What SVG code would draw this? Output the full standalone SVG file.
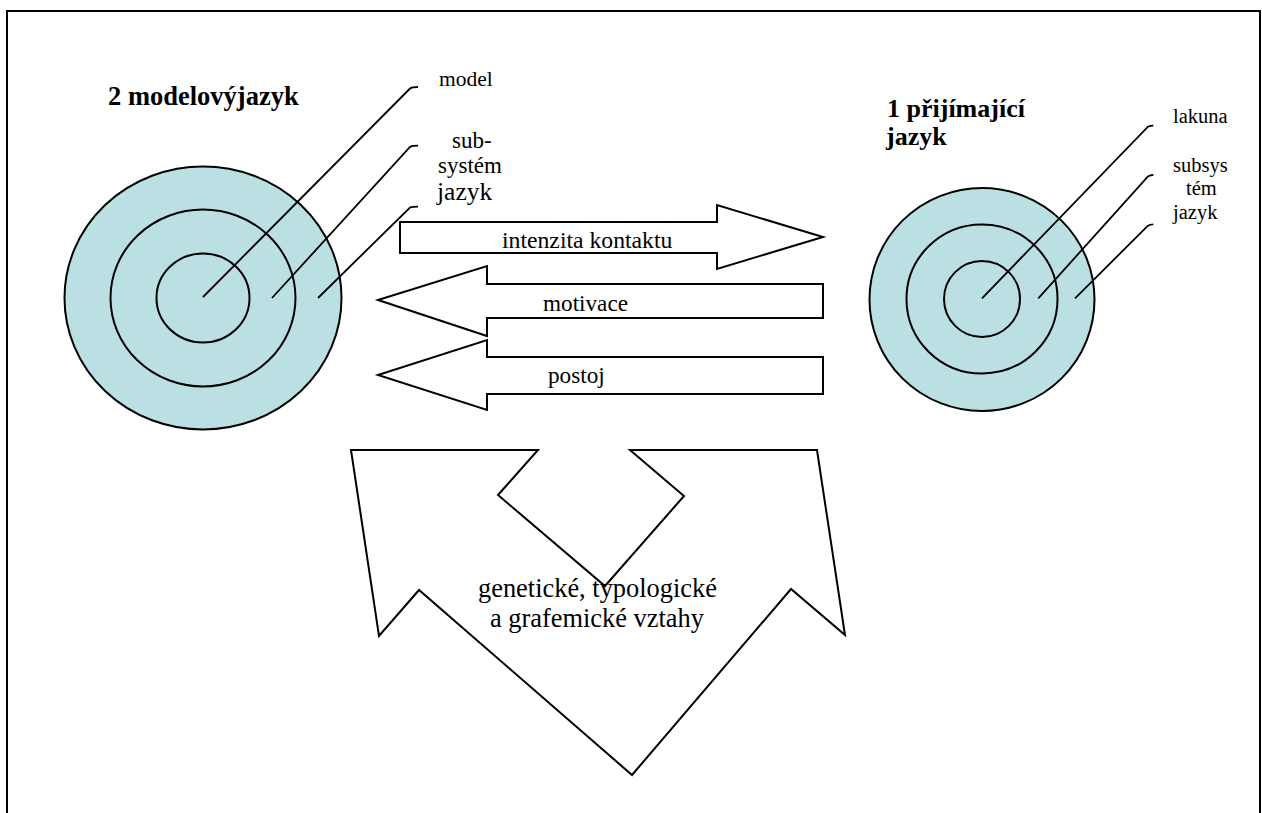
<svg xmlns="http://www.w3.org/2000/svg" width="1262" height="813" viewBox="0 0 1262 813">
<style>
.ring{fill:#BBE0E3;stroke:#000;stroke-width:2}
.inner{fill:none;stroke:#000;stroke-width:2}
.lead{fill:none;stroke:#000;stroke-width:1.8}
.arrow{fill:#fff;stroke:#000;stroke-width:2;stroke-linejoin:miter}
text{font-family:'Liberation Serif','Times New Roman',serif;fill:#000}
.b{font-weight:bold}
</style>
<rect width="1262" height="813" fill="#fff"/>
<path d="M7,813 V11 H1260 V813" fill="none" stroke="#000" stroke-width="2"/>

<g id="model-language">
<ellipse class="ring" cx="203" cy="298" rx="138.5" ry="131.5"/>
<ellipse class="inner" cx="203" cy="298" rx="92.5" ry="88.5"/>
<ellipse class="inner" cx="203" cy="298" rx="46.5" ry="44.5"/>
<text class="b" x="108" y="105" font-size="26.5">2 modelovýjazyk</text>
</g>

<g id="receiving-language">
<ellipse class="ring" cx="982" cy="299.5" rx="112.5" ry="111.5"/>
<ellipse class="inner" cx="982" cy="299" rx="75.5" ry="74.5"/>
<ellipse class="inner" cx="982" cy="299" rx="38" ry="38"/>
<text class="b" x="887" y="117" font-size="26">1 přijímající</text>
<text class="b" x="886" y="145" font-size="26">jazyk</text>
</g>

<g id="connectors">
<path class="lead" d="M203,297 L410,88.5 Q412,87 418,87"/>
<path class="lead" d="M272,298 L410,147 Q412,145.7 418,145.7"/>
<path class="lead" d="M318,298 L410,207.5 Q412,206.7 418,206.7"/>
<path class="lead" d="M982,298.3 L1148,126.7 Q1150,125.7 1153.3,125.7"/>
<path class="lead" d="M1038.3,298.3 L1148,176.5 Q1150,175 1153.3,175"/>
<path class="lead" d="M1075,298.3 L1148,225.7 Q1150,224.3 1153.3,224.3"/>
</g>

<g id="labels-left">
<text x="439" y="86" font-size="21.5">model</text>
<text x="452" y="148" font-size="23">sub-</text>
<text x="438" y="173" font-size="23">systém</text>
<text x="437" y="200" font-size="25.5">jazyk</text>
</g>

<g id="labels-right">
<text x="1173" y="123" font-size="20.5">lakuna</text>
<text x="1173" y="172" font-size="20.5">subsys</text>
<text x="1186" y="195" font-size="20.5">tém</text>
<text x="1173" y="219" font-size="20.5">jazyk</text>
</g>

<g id="arrow-intenzita">
<polygon class="arrow" points="400,222 717,222 717,205 823,237 717,269 717,253 400,253"/>
<text x="502" y="248" font-size="23.7">intenzita kontaktu</text>
</g>

<g id="arrow-motivace">
<polygon class="arrow" points="378,300 487,266 487,284 823,284 823,318 487,318 487,336"/>
<text x="543" y="311" font-size="23.2">motivace</text>
</g>

<g id="arrow-postoj">
<polygon class="arrow" points="378,375 487,340 487,357 823,357 823,394 487,394 487,410"/>
<text x="548" y="383" font-size="23.2">postoj</text>
</g>

<g id="relations">
<polygon class="arrow" points="351,450 538,450 498,495 605,586 684,496 630,450 817,450 845,635 791,589 632,775 419,590 379,636"/>
<text x="478" y="597" font-size="26.4">genetické, typologické</text>
<text x="490" y="627" font-size="26.4">a grafemické vztahy</text>
</g>
</svg>
